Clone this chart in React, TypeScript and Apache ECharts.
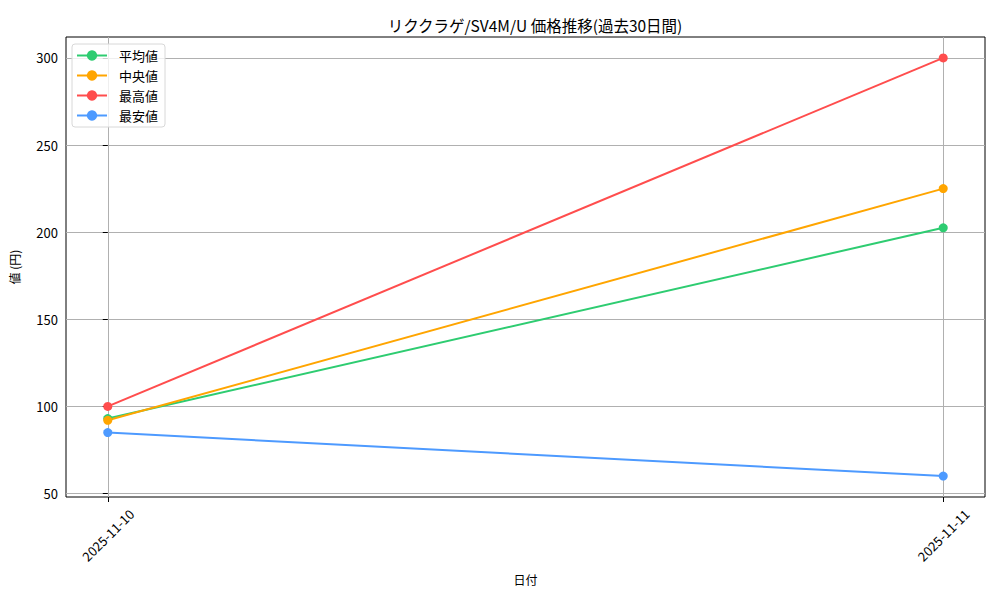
import React, { useEffect, useRef } from 'react';
import * as echarts from 'echarts';

const dates = ['2025-11-10', '2025-11-11'];
const seriesNames = ['平均値', '中央値', '最高値', '最安値'];
const avgValues = [93, 202.5];
const medianValues = [92, 225];
const maxValues = [100, 300];
const minValues = [85, 60];
const yTicks = [50, 100, 150, 200, 250, 300];
const colors = ['#2ecc71', '#ffa500', '#ff4d4d', '#4d9aff'];

const FONT = '"Noto Sans CJK JP", sans-serif';

export default function App() {
  const ref = useRef<HTMLDivElement>(null);

  useEffect(() => {
    if (!ref.current) return;
    const chart = echarts.init(ref.current, null, { renderer: 'svg' });
    const all = [avgValues, medianValues, maxValues, minValues];
    const lo = Math.min(...all.flat());
    const hi = Math.max(...all.flat());
    const pad = (hi - lo) * 0.05;
    const xPad = (dates.length - 1) * 0.05;

    chart.setOption({
      animation: false,
      backgroundColor: '#fff',
      textStyle: { fontFamily: FONT },
      title: {
        text: 'リククラゲ/SV4M/U 価格推移(過去30日間)',
        left: 530, top: 12, textAlign: 'center',
        textStyle: { fontSize: 15.5, fontWeight: 'normal', color: '#000', fontFamily: FONT },
      },
      grid: {
        left: 66, right: 15, top: 37, bottom: 103,
        show: true, borderColor: '#000', borderWidth: 1, backgroundColor: 'transparent',
      },
      legend: {
        orient: 'vertical', left: 72, top: 44,
        data: seriesNames,
        itemWidth: 30, itemHeight: 13, itemGap: 7,
        padding: [5, 7, 5, 4],
        borderColor: '#d8d8d8', borderWidth: 1, borderRadius: 3,
        backgroundColor: 'rgba(255,255,255,0.8)',
        textStyle: { fontSize: 13, color: '#000', fontFamily: FONT, padding: [0, 0, 0, 7] },
      },
      xAxis: {
        type: 'value',
        min: -xPad, max: dates.length - 1 + xPad,
        name: '日付', nameLocation: 'middle', nameGap: 76,
        nameTextStyle: { fontSize: 12, color: '#000' },
        axisLine: { show: false },
        axisTick: { show: true, customValues: dates.map((_, i) => i), length: 5, lineStyle: { color: '#000' } },
        axisLabel: {
          customValues: dates.map((_, i) => i),
          formatter: (v: number) => dates[Math.round(v)] ?? '',
          rotate: 45, fontSize: 13, color: '#000', margin: 38,
          align: 'center', verticalAlign: 'middle',
        },
        splitLine: { show: true, lineStyle: { color: '#b0b0b0', width: 1 } },
      },
      yAxis: {
        type: 'value',
        min: lo - pad, max: hi + pad,
        name: '値 (円)', nameLocation: 'middle', nameGap: 46, nameRotate: 90,
        nameTextStyle: { fontSize: 12, color: '#000' },
        axisLine: { show: false },
        axisTick: { show: true, customValues: yTicks, length: 5, lineStyle: { color: '#000' } },
        axisLabel: { customValues: yTicks, fontSize: 13, color: '#000', margin: 8 },
        splitLine: { show: true, lineStyle: { color: '#b0b0b0', width: 1 } },
      },
      series: all.map((vals, k) => ({
        name: seriesNames[k],
        type: 'line',
        data: vals.map((v, i) => [i, v]),
        symbol: 'circle', symbolSize: 9,
        color: colors[k],
        lineStyle: { width: 2, color: colors[k] },
        itemStyle: { color: colors[k] },
      })),
    });
    return () => chart.dispose();
  }, []);

  return <div ref={ref} style={{ width: 1000, height: 600, margin: -8 }} />;
}
